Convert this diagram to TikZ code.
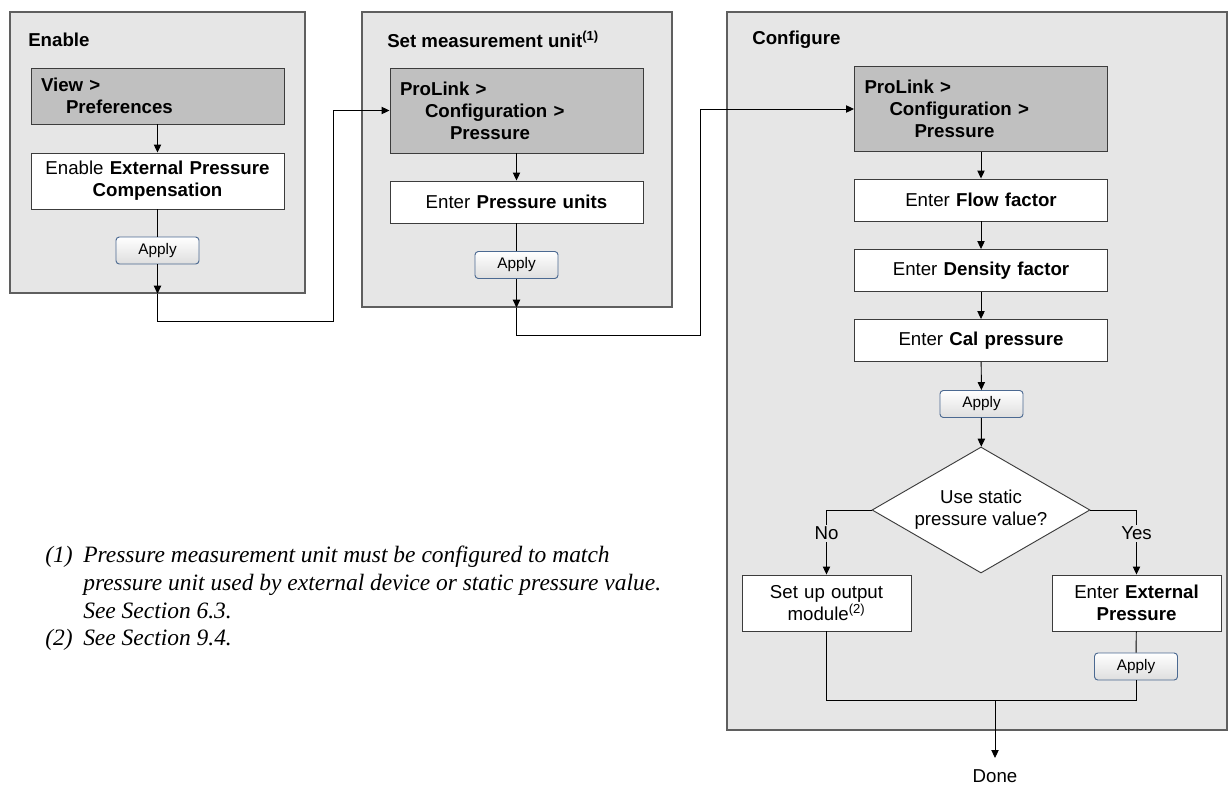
\documentclass[tikz,border=0pt]{standalone}
\usepackage{fontspec}
\setmainfont{Liberation Sans}
\newfontfamily\notefont{Liberation Serif}
\usetikzlibrary{arrows.meta,shapes.geometric}
\definecolor{panelgray}{RGB}{230,230,230}
\definecolor{menugray}{RGB}{192,192,192}
\definecolor{edgegray}{RGB}{95,95,95}
\definecolor{boxedge}{RGB}{60,60,60}
\definecolor{btnedge}{RGB}{75,105,145}
\definecolor{btnlow}{RGB}{222,222,222}

\begin{document}
\begin{tikzpicture}[x=0.75pt,y=0.75pt,yscale=-1,xscale=1,
  every node/.style={font=\fontsize{14}{16.5}\selectfont},
  panel/.style={draw=edgegray, line width=1.1pt, fill=panelgray, inner sep=0},
  title/.style={anchor=west, inner sep=0, font=\fontsize{14}{16.5}\selectfont\bfseries},
  menubox/.style={draw=boxedge, line width=0.7pt, fill=menugray, minimum width=189.75pt, text width=174.75pt, inner xsep=7.5pt, align=left, font=\fontsize{14}{16.5}\selectfont\bfseries},
  stepbox/.style={draw=boxedge, line width=0.7pt, fill=white, minimum width=189.75pt, text width=174.75pt, inner xsep=7.5pt, align=center},
  smallbox/.style={draw=boxedge, line width=0.7pt, fill=white, minimum width=126.75pt, text width=111.75pt, minimum height=42pt, inner xsep=7.5pt, align=center},
  decision/.style={diamond, draw=boxedge, line width=0.7pt, fill=white, minimum width=163.5pt, minimum height=94.5pt, aspect=1.73, inner sep=0, align=center},
  applybtn/.style={draw=btnedge, line width=0.7pt, rounded corners=2.5pt, top color=white, bottom color=btnlow, minimum width=62.25pt, minimum height=20.25pt, inner sep=0, font=\fontsize{11.5}{13}\selectfont},
  link/.style={line width=0.7pt},
  arr/.style={link, -{Triangle[length=6pt,width=5.5pt]}},
  branch/.style={fill=panelgray, inner sep=1.5pt}
]
\useasboundingbox (0,0) rectangle (1228,786);

% panels
\node[panel, minimum width=221.25pt, minimum height=210.75pt] (enable) at (157.5,152.5) {};
\node[panel, minimum width=232.5pt, minimum height=221.25pt] (setunit) at (517,159.5) {};
\node[panel, minimum width=375pt, minimum height=538.5pt] (configure) at (977,371) {};
\node[title] (t1) at (28,40) {Enable};
\node[title] (t2) at (387,39) {Set measurement unit\textsuperscript{(1)}};
\node[title] (t3) at (752,40) {Configure};

% Enable
\node[menubox, minimum height=42pt] (pref) at (157.5,96) {View >\\\hspace*{18.75pt}Preferences};
\node[stepbox, minimum height=42pt] (epc) at (157.5,181) {Enable \textbf{External Pressure}\\\textbf{Compensation}};
\node[applybtn] (apply1) at (157.5,250.5) {Apply};

% Set measurement unit
\node[menubox, minimum height=63.75pt] (prolink1) at (516.5,110.5) {ProLink >\\\hspace*{18.75pt}Configuration >\\\hspace*{37.5pt}Pressure};
\node[stepbox, minimum height=31.5pt] (units) at (516.5,202) {Enter \textbf{Pressure units}};
\node[applybtn] (apply2) at (516.5,265) {Apply};

% Configure
\node[menubox, minimum height=63.75pt] (prolink2) at (981,109) {ProLink >\\\hspace*{18.75pt}Configuration >\\\hspace*{37.5pt}Pressure};
\node[stepbox, minimum height=31.5pt] (flow) at (981,200) {Enter \textbf{Flow factor}};
\node[stepbox, minimum height=31.5pt] (density) at (981,270.5) {Enter \textbf{Density factor}};
\node[stepbox, minimum height=31.5pt] (cal) at (981,340.5) {Enter \textbf{Cal pressure}};
\node[applybtn] (apply3) at (981.5,404) {Apply};
\node[decision] (static) at (981,510) {Use static\\pressure value?};
\node[smallbox] (output) at (826.5,603) {Set up output\\module\textsuperscript{(2)}};
\node[smallbox] (extp) at (1136.5,603) {Enter \textbf{External}\\\textbf{Pressure}};
\node[applybtn] (apply4) at (1136,666.5) {Apply};
\node[anchor=north, inner ysep=8.5pt] (done) at (995,758) {Done};
\coordinate (turn1) at (333,321);
\coordinate (turn2) at (700,335);
\coordinate (join) at (995,700);

% connectors
\draw[arr] (pref) -- (epc);
\draw[link] (epc) -- (apply1);
\draw[arr] (apply1) -- (apply1 |- enable.south);
\draw[arr] (apply1 |- enable.south) |- (turn1) |- (prolink1);
\draw[arr] (prolink1) -- (units);
\draw[link] (units) -- (apply2);
\draw[arr] (apply2) -- (apply2 |- setunit.south);
\draw[arr] (apply2 |- setunit.south) |- (turn2) |- (prolink2);
\draw[arr] (prolink2) -- (flow);
\draw[arr] (flow) -- (density);
\draw[arr] (density) -- (cal);
\draw[arr] (cal) -- (apply3);
\draw[arr] (apply3) -- (static);
\draw[arr] (static.west) -| (output) node[branch, pos=0.68] {No};
\draw[arr] (static.east) -| (extp) node[branch, pos=0.68] {Yes};
\draw[link] (extp) -- (apply4);
\draw[link] (output) |- (join) -| (apply4);
\draw[arr] (join) -- (done);

% footnotes
\node[anchor=north west, inner sep=0, font=\notefont\itshape\fontsize{17.6}{20.8}\selectfont] (notes) at (45,543) {\begin{tabular}{@{}p{28.5pt}@{}l@{}}
(1) & Pressure measurement unit must be configured to match\\
 & pressure unit used by external device or static pressure value.\\
 & See Section 6.3.\\
(2) & See Section 9.4.
\end{tabular}};

\end{tikzpicture}
\end{document}
